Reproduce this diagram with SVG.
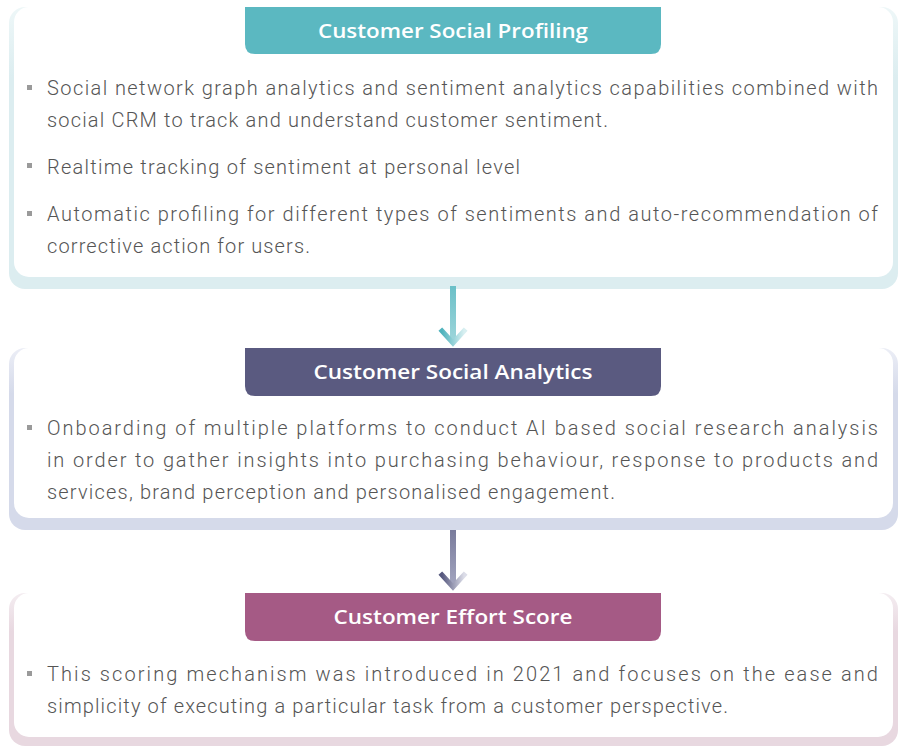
<svg xmlns="http://www.w3.org/2000/svg" width="903" height="746" viewBox="0 0 903 746">
  <style>
    .card { fill: #ffffff; }
    .hdr-text { font-family: "Open Sans", "Liberation Sans", sans-serif; font-weight: 600; font-size: 19px; fill: #ffffff; text-anchor: middle; }
    .body { font-family: Roboto, "Liberation Sans", sans-serif; font-weight: 300; font-size: 20px; fill: #555555; }
    .bullet { fill: #9a9a9a; }
  </style>
  <defs>
    <linearGradient id="gTeal" x1="0" y1="0" x2="1" y2="0">
      <stop offset="0" stop-color="#4fb3bd"/>
      <stop offset="1" stop-color="#d8eff1"/>
    </linearGradient>
    <linearGradient id="gTealLine" gradientUnits="userSpaceOnUse" x1="0" y1="287" x2="0" y2="343">
      <stop offset="0" stop-color="#6cc0c8"/>
      <stop offset="1" stop-color="#9fd6db"/>
    </linearGradient>
    <linearGradient id="gPurp" x1="0" y1="0" x2="1" y2="0">
      <stop offset="0" stop-color="#56587e"/>
      <stop offset="1" stop-color="#dcdde8"/>
    </linearGradient>
    <linearGradient id="gPurpLine" gradientUnits="userSpaceOnUse" x1="0" y1="531" x2="0" y2="587">
      <stop offset="0" stop-color="#7a7c9c"/>
      <stop offset="1" stop-color="#a4a6c0"/>
    </linearGradient>
    <linearGradient id="tint1" x1="0" y1="0" x2="0" y2="1">
      <stop offset="0" stop-color="#eef7f8"/>
      <stop offset="0.25" stop-color="#dcedf0"/>
      <stop offset="1" stop-color="#dcedf0"/>
    </linearGradient>
    <linearGradient id="tint2" x1="0" y1="0" x2="0" y2="1">
      <stop offset="0" stop-color="#eceef6"/>
      <stop offset="0.25" stop-color="#d5daea"/>
      <stop offset="1" stop-color="#d5daea"/>
    </linearGradient>
    <linearGradient id="tint3" x1="0" y1="0" x2="0" y2="1">
      <stop offset="0" stop-color="#f4edf1"/>
      <stop offset="0.25" stop-color="#e8d8e0"/>
      <stop offset="1" stop-color="#e8d8e0"/>
    </linearGradient>
  </defs>

  <g id="node-profiling">
    <rect x="9" y="7" width="889" height="282" rx="16" fill="url(#tint1)"/>
    <rect class="card" x="14" y="7" width="879" height="270" rx="15"/>
    <path d="M245 7 H661 V44 Q661 54 651 54 H255 Q245 54 245 44 Z" fill="#5bb8c1"/>
    <text class="hdr-text" x="453" y="38" textLength="270" lengthAdjust="spacingAndGlyphs">Customer Social Profiling</text>
    <rect class="bullet" x="27" y="85" width="5" height="5"/>
    <text class="body" x="47" y="95" textLength="831" lengthAdjust="spacing">Social network graph analytics and sentiment analytics capabilities combined with</text>
    <text class="body" x="47" y="127" textLength="561" lengthAdjust="spacing">social CRM to track and understand customer sentiment.</text>
    <rect class="bullet" x="27" y="163" width="5" height="5"/>
    <text class="body" x="47" y="174" textLength="473" lengthAdjust="spacing">Realtime tracking of sentiment at personal level</text>
    <rect class="bullet" x="27" y="211" width="5" height="5"/>
    <text class="body" x="47" y="221" textLength="831" lengthAdjust="spacing">Automatic profiling for different types of sentiments and auto-recommendation of</text>
    <text class="body" x="47" y="253" textLength="263" lengthAdjust="spacing">corrective action for users.</text>
  </g>

  <g id="node-analytics">
    <rect x="9" y="348" width="889" height="182" rx="16" fill="url(#tint2)"/>
    <rect class="card" x="14" y="348" width="879" height="170" rx="15"/>
    <path d="M245 348 H661 V386 Q661 396 651 396 H255 Q245 396 245 386 Z" fill="#5a5a80"/>
    <text class="hdr-text" x="453" y="379" textLength="279" lengthAdjust="spacingAndGlyphs">Customer Social Analytics</text>
    <rect class="bullet" x="27" y="425" width="5" height="5"/>
    <text class="body" x="47" y="435" textLength="831" lengthAdjust="spacing">Onboarding of multiple platforms to conduct AI based social research analysis</text>
    <text class="body" x="47" y="467" textLength="831" lengthAdjust="spacing">in order to gather insights into purchasing behaviour, response to products and</text>
    <text class="body" x="47" y="499" textLength="568" lengthAdjust="spacing">services, brand perception and personalised engagement.</text>
  </g>

  <g id="node-effort">
    <rect x="9" y="593" width="889" height="153" rx="16" fill="url(#tint3)"/>
    <rect class="card" x="14" y="593" width="879" height="144" rx="15"/>
    <path d="M245 593 H661 V631 Q661 641 651 641 H255 Q245 641 245 631 Z" fill="#a55a85"/>
    <text class="hdr-text" x="453" y="624" textLength="239" lengthAdjust="spacingAndGlyphs">Customer Effort Score</text>
    <rect class="bullet" x="27" y="671" width="5" height="5"/>
    <text class="body" x="47" y="681" textLength="831" lengthAdjust="spacing">This scoring mechanism was introduced in 2021 and focuses on the ease and</text>
    <text class="body" x="47" y="713" textLength="681" lengthAdjust="spacing">simplicity of executing a particular task from a customer perspective.</text>
  </g>

  <g id="connectors" fill="none">
    <rect x="450" y="286" width="6" height="57" fill="url(#gTealLine)"/>
    <polyline points="442,331 453,343 464,331" stroke="url(#gTeal)" stroke-width="5" stroke-linecap="square" stroke-linejoin="miter"/>
    <rect x="450" y="530" width="6" height="57" fill="url(#gPurpLine)"/>
    <polyline points="442,575 453,587 464,575" stroke="url(#gPurp)" stroke-width="5" stroke-linecap="square" stroke-linejoin="miter"/>
  </g>
</svg>
